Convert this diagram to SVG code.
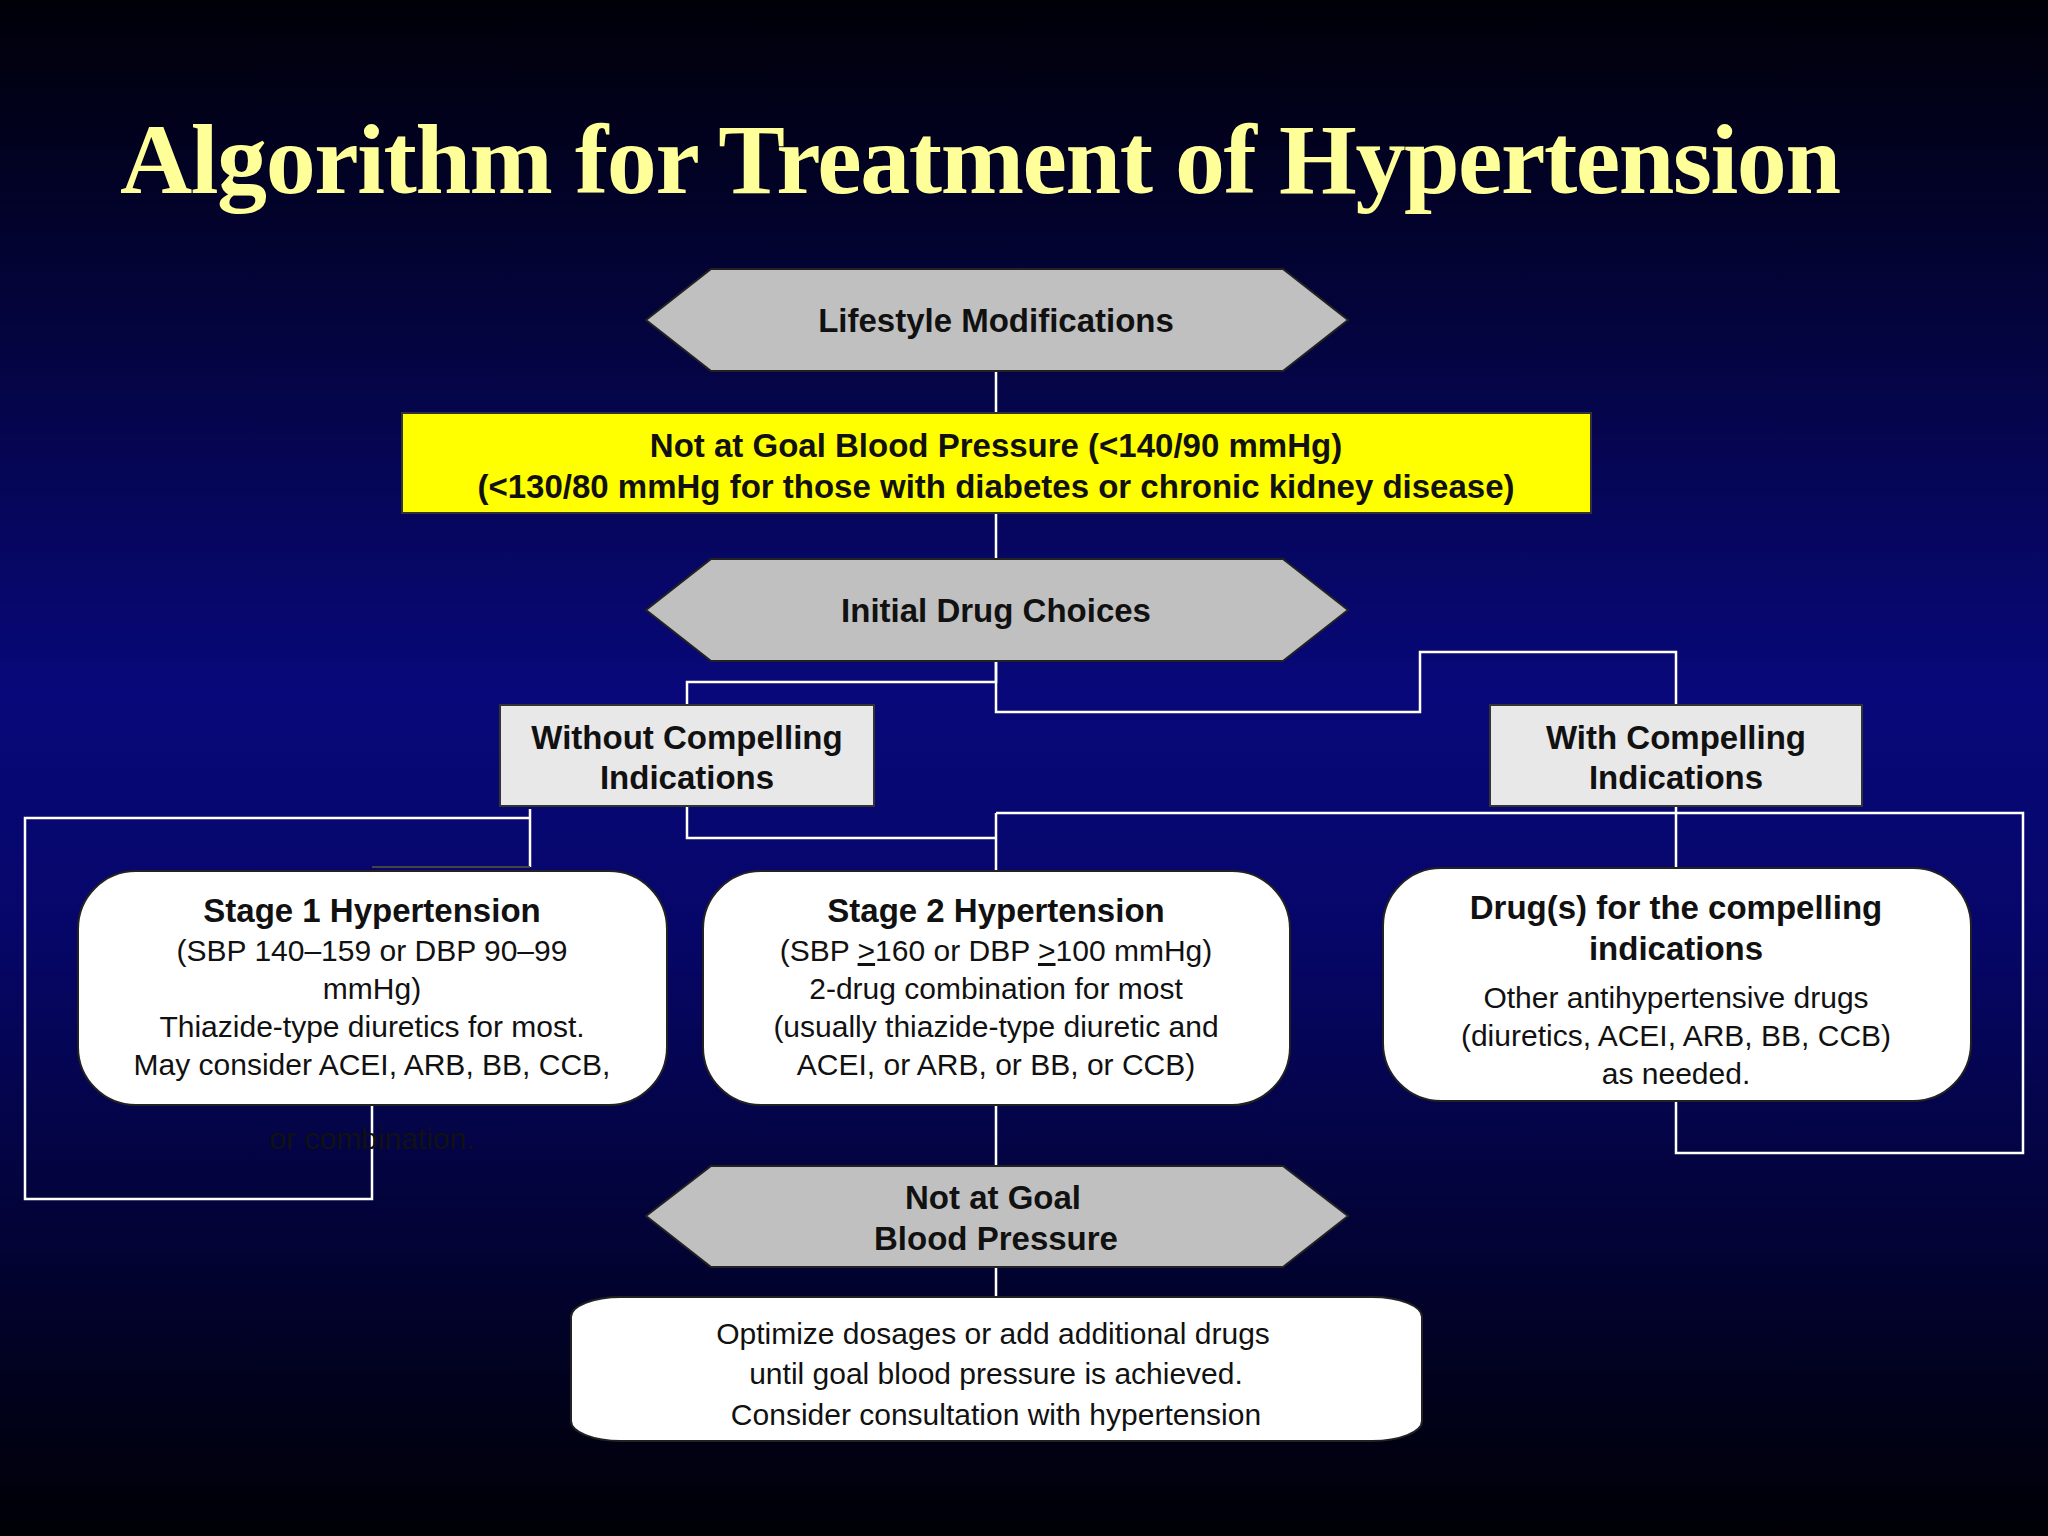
<svg xmlns="http://www.w3.org/2000/svg" width="2048" height="1536" viewBox="0 0 2048 1536">
<defs>
<linearGradient id="bg" x1="0" y1="0" x2="0" y2="1">
<stop offset="0" stop-color="#000008"/>
<stop offset="0.45" stop-color="#08087a"/>
<stop offset="0.6" stop-color="#06066a"/>
<stop offset="1" stop-color="#000005"/>
</linearGradient>
<style>
.hex{fill:#c0c0c0;stroke:#222;stroke-width:2}
.gb{fill:#e8e8e8;stroke:#333;stroke-width:2}
.wb{fill:#fff;stroke:#222;stroke-width:2}
.b{font-family:"Liberation Sans",Arial,sans-serif;font-weight:bold;font-size:33px;fill:#111;text-anchor:middle}
.n{font-family:"Liberation Sans",Arial,sans-serif;font-size:30px;fill:#111;text-anchor:middle}
.c{fill:none;stroke:#fff;stroke-width:2.5}
</style>
</defs>
<rect width="2048" height="1536" fill="url(#bg)"/>
<text x="120" y="193" font-family="'Liberation Serif',serif" font-weight="bold" font-size="100" fill="#ffff99" textLength="1721">Algorithm for Treatment of Hypertension</text>
<g id="connectors">
<path class="c" d="M996 371V413M996 513V559"/>
<path class="c" d="M996 661V682H687V705"/>
<path class="c" d="M996 661V712H1420V652H1676V705"/>
<path class="c" d="M530 809V867M530 818H25V1199H372V1105"/>
<path class="c" d="M687 806V838H996"/>
<path class="c" d="M996 813V871M996 813H2023V1153H1676V1101M1676 806V868"/>
<path class="c" d="M996 1105V1166M996 1267V1297"/>
<path d="M372 867H530" stroke="#444" stroke-width="2"/>
</g>
<g id="lifestyle"><polygon class="hex" points="646,320 711,269 1283,269 1348,320 1283,371 711,371"/><text class="b" x="996" y="332">Lifestyle Modifications</text></g>
<g id="notgoal"><rect x="402" y="413" width="1189" height="100" fill="#ffff00" stroke="#333" stroke-width="2"/><text class="b" x="996" y="457">Not at Goal Blood Pressure (&lt;140/90 mmHg)</text><text class="b" x="996" y="498">(&lt;130/80 mmHg for those with diabetes or chronic kidney disease)</text></g>
<g id="initial"><polygon class="hex" points="646,610 711,559 1283,559 1348,610 1283,661 711,661"/><text class="b" x="996" y="622">Initial Drug Choices</text></g>
<g id="without"><rect class="gb" x="500" y="705" width="374" height="101"/><text class="b" x="687" y="749">Without Compelling</text><text class="b" x="687" y="789">Indications</text></g>
<g id="with"><rect class="gb" x="1490" y="705" width="372" height="101"/><text class="b" x="1676" y="749">With Compelling</text><text class="b" x="1676" y="789">Indications</text></g>
<g id="stage1"><rect class="wb" x="78" y="871" width="589" height="234" rx="58"/><text class="b" x="372" y="922">Stage 1 Hypertension</text><text class="n" x="372" y="961">(SBP 140–159 or DBP 90–99</text><text class="n" x="372" y="999">mmHg)</text><text class="n" x="372" y="1037">Thiazide-type diuretics for most.</text><text class="n" x="372" y="1075">May consider ACEI, ARB, BB, CCB,</text><text class="n" x="372" y="1149" fill="#0a0a30">or combination.</text></g>
<g id="stage2"><rect class="wb" x="703" y="871" width="587" height="234" rx="58"/><text class="b" x="996" y="922">Stage 2 Hypertension</text><text class="n" x="996" y="961">(SBP <tspan text-decoration="underline">&gt;</tspan>160 or DBP <tspan text-decoration="underline">&gt;</tspan>100 mmHg)</text><text class="n" x="996" y="999">2-drug combination for most</text><text class="n" x="996" y="1037">(usually thiazide-type diuretic and</text><text class="n" x="996" y="1075">ACEI, or ARB, or BB, or CCB)</text></g>
<g id="compelling"><rect class="wb" x="1383" y="868" width="588" height="233" rx="58"/><text class="b" x="1676" y="919">Drug(s) for the compelling</text><text class="b" x="1676" y="960">indications</text><text class="n" x="1676" y="1008">Other antihypertensive drugs</text><text class="n" x="1676" y="1046">(diuretics, ACEI, ARB, BB, CCB)</text><text class="n" x="1676" y="1084">as needed.</text></g>
<g id="notgoal2"><polygon class="hex" points="646,1216 711,1166 1283,1166 1348,1216 1283,1267 711,1267"/><text class="b" x="993" y="1209">Not at Goal</text><text class="b" x="996" y="1250">Blood Pressure</text></g>
<g id="optimize"><rect class="wb" x="571" y="1297" width="851" height="144" rx="50" ry="20"/><text class="n" x="993" y="1344" font-size="32">Optimize dosages or add additional drugs</text><text class="n" x="996" y="1384" font-size="32">until goal blood pressure is achieved.</text><text class="n" x="996" y="1425" font-size="32">Consider consultation with hypertension</text></g>
</svg>
